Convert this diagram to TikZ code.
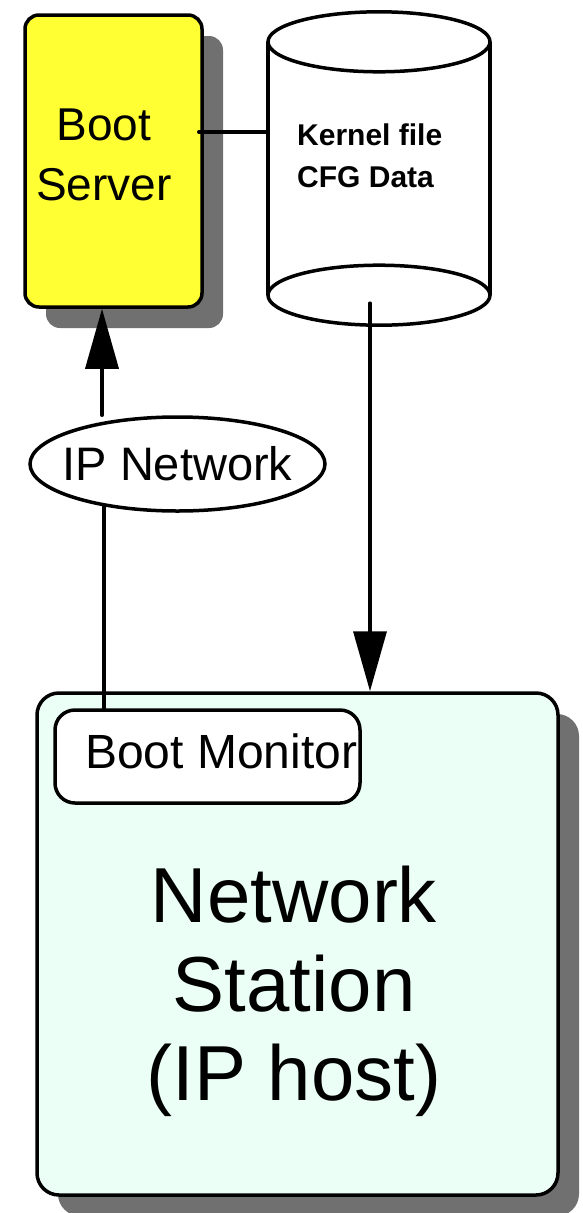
\documentclass[tikz,border=0pt]{standalone}
\usepackage{fontspec}
\setmainfont{Liberation Sans}
\usetikzlibrary{arrows.meta,shapes.geometric,shadows}

\definecolor{serveryellow}{RGB}{255,255,51}
\definecolor{stationmint}{RGB}{236,255,247}
\definecolor{shadowgrey}{RGB}{112,112,112}

\tikzset{
  outline/.style={draw=black,line width=3.5pt},
  wire/.style={outline,line cap=round},
  shadowed/.style={drop shadow={shadow xshift=21pt,shadow yshift=-21pt,fill=shadowgrey,opacity=1}},
  bigtip/.style={-{Triangle[width=33pt,length=60pt]}},
}

\begin{document}
\begin{tikzpicture}[x=1pt,y=-1pt]
\useasboundingbox (0,0) rectangle (582,1213);
% boot server
\node[outline,fill=serveryellow,rounded corners=14pt,minimum width=177pt,minimum height=292pt,inner sep=0,shadowed] (bs) at (113.5,161) {};
\node[font=\fontsize{46}{60}\selectfont,align=center,anchor=north,inner sep=0] (bstext) at (104,109) {Boot\\Server};
% disk with kernel and config
\node[minimum width=222pt,minimum height=253pt,inner sep=0] (db) at (379,168.5) {};
\path[fill=white] (db.north west) -- (db.south west) arc[start angle=180,end angle=360,x radius=111pt,y radius=30pt]
  -- (db.north east) arc[start angle=0,end angle=180,x radius=111pt,y radius=30pt] -- cycle;
\draw[outline] (db.north west) -- (db.south west) (db.north east) -- (db.south east);
\draw[outline] (db.north) ellipse[x radius=111pt,y radius=30pt] (db.south) ellipse[x radius=111pt,y radius=30pt];
\node[font=\bfseries\fontsize{30}{42}\selectfont,align=left,anchor=north west,inner sep=0] (dbtext) at (297,124) {Kernel file\\CFG Data};
\coordinate (link) at (0,132);
\draw[wire] ([xshift=-5pt]bs.east |- link) -- (db.west |- link);
% network cloud
\node[outline,ellipse,fill=white,minimum width=295pt,minimum height=94pt,inner sep=0] (ipnet) at (177.5,464) {};
\node[font=\fontsize{47}{56}\selectfont,inner sep=0] (iptext) at (ipnet) {IP Network};
\coordinate (upx) at (102,0);
\draw[wire,bigtip] (ipnet.north -| upx) -- (bs.south -| upx);
% client
\node[outline,fill=stationmint,rounded corners=22pt,minimum width=521pt,minimum height=502pt,inner sep=0,shadowed] (ns) at (297.5,944) {};
\node[font=\fontsize{78}{89}\selectfont,align=center,anchor=north,inner sep=0] (nstext) at (294,866) {Network\\Station\\(IP host)};
\node[outline,fill=white,rounded corners=20pt,minimum width=305pt,minimum height=93pt,inner sep=0] (bm) at (207.5,756.5) {};
\node[font=\fontsize{48}{58}\selectfont,anchor=base west,inner sep=0] (bmtext) at (85,768) {Boot Monitor};
\coordinate (linkx) at (104,0);
\draw[wire] ([yshift=7pt]ipnet.south -| linkx) -- (bm.north -| linkx);
\coordinate (downx) at (370,0);
\draw[wire,bigtip] ([yshift=-8pt]db.south -| downx) -- (ns.north -| downx);
\end{tikzpicture}
\end{document}
